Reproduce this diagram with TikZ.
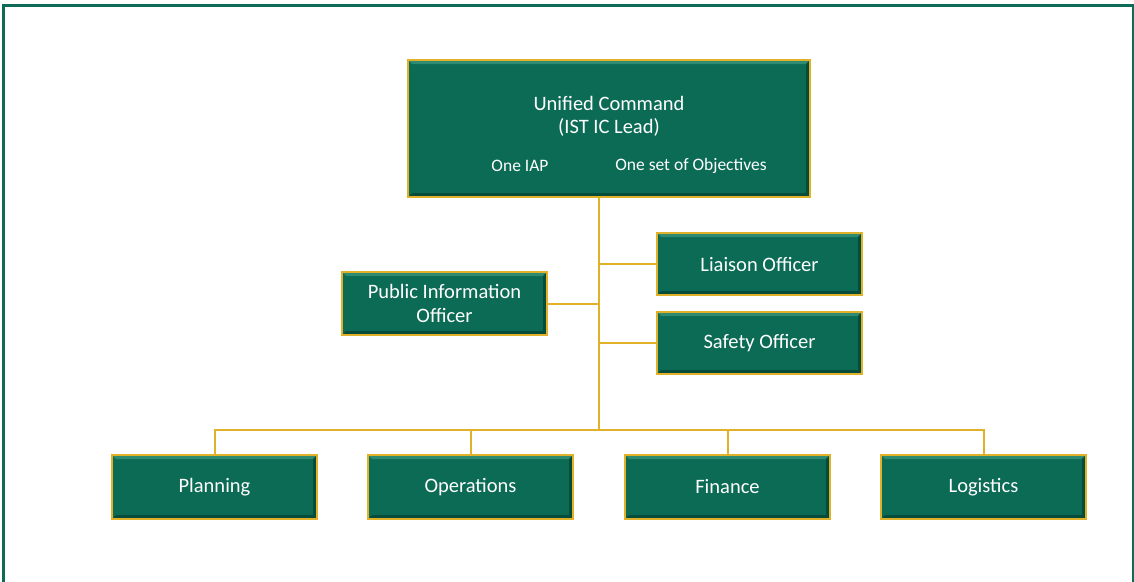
\documentclass[tikz,border=0pt]{standalone}
\usepackage{fontspec}
\setmainfont{Carlito}
\definecolor{boxgreen}{HTML}{0B6B55}
\definecolor{boxlight}{HTML}{2F8A72}
\definecolor{boxdark}{HTML}{064C3B}
\definecolor{framegreen}{HTML}{0E6B56}
\definecolor{gold}{HTML}{E2B12A}
\begin{document}
\begin{tikzpicture}[x=1pt,y=-1pt,
  orgbox/.style={draw=gold,line width=2pt,fill=boxgreen,text=white,align=center,
    font=\fontsize{20.5}{24}\selectfont,inner sep=0pt,
    path picture={
      \fill[boxlight] (path picture bounding box.north west) -- (path picture bounding box.north east)
        -- ([xshift=-4pt,yshift=-4pt]path picture bounding box.north east)
        -- ([xshift=4pt,yshift=-4pt]path picture bounding box.north west) -- cycle;
      \fill[boxdark] (path picture bounding box.south west) -- (path picture bounding box.south east)
        -- ([xshift=-4pt,yshift=4pt]path picture bounding box.south east)
        -- ([xshift=4pt,yshift=4pt]path picture bounding box.south west) -- cycle;
      \fill[boxdark] (path picture bounding box.south east) -- (path picture bounding box.north east)
        -- ([xshift=-4pt,yshift=-4pt]path picture bounding box.north east)
        -- ([xshift=-4pt,yshift=4pt]path picture bounding box.south east) -- cycle;
    }},
  conn/.style={draw=gold,line width=2pt}]
\useasboundingbox (0,0) rectangle (1134,581);
\draw[framegreen,line width=3pt] (3,600) -- (3,5) -- (1133,5) -- (1133,600);
% boxes (corners in px)
\node[orgbox,minimum width=402pt,minimum height=137pt] (uc) at (609,128.5) {};
\node[text=white,font=\fontsize{20.5}{24}\selectfont] (uct) at (609,103) {Unified Command};
\node[text=white,font=\fontsize{20.5}{24}\selectfont] (ucs) at (609,127) {(IST IC Lead)};
\node[text=white,font=\fontsize{17.5}{20}\selectfont] (iap) at (520,166) {One IAP};
\node[text=white,font=\fontsize{17.5}{20}\selectfont] (obj) at (691,166) {One set of Objectives};
\node[orgbox,minimum width=205pt,minimum height=62pt] (lo) at (759.5,264) {Liaison Officer};
\node[orgbox,minimum width=205pt,minimum height=63pt] (pio) at (444.5,303.5) {Public Information\\[0pt]Officer};
\node[orgbox,minimum width=205pt,minimum height=62pt] (so) at (759.5,343) {Safety Officer};
\node[orgbox,minimum width=205pt,minimum height=64pt] (pl) at (214.5,487) {Planning};
\node[orgbox,minimum width=205pt,minimum height=64pt] (op) at (470.5,487) {Operations};
\node[orgbox,minimum width=205pt,minimum height=64pt] (fi) at (727.5,487) {Finance};
\node[orgbox,minimum width=205pt,minimum height=64pt] (lg) at (983.5,487) {Logistics};
% connectors
\coordinate (bus) at (599,430);
\draw[conn] (uc.south -| bus) -- (bus);
\draw[conn] (lo.west) -- (lo.west -| bus);
\draw[conn] (so.west) -- (so.west -| bus);
\draw[conn] (pio.east) -- (pio.east -| bus);
\draw[conn] (pl.north) |- (bus) -| (lg.north);
\draw[conn] (op.north) -- (op.north |- bus);
\draw[conn] (fi.north) -- (fi.north |- bus);
\end{tikzpicture}
\end{document}
